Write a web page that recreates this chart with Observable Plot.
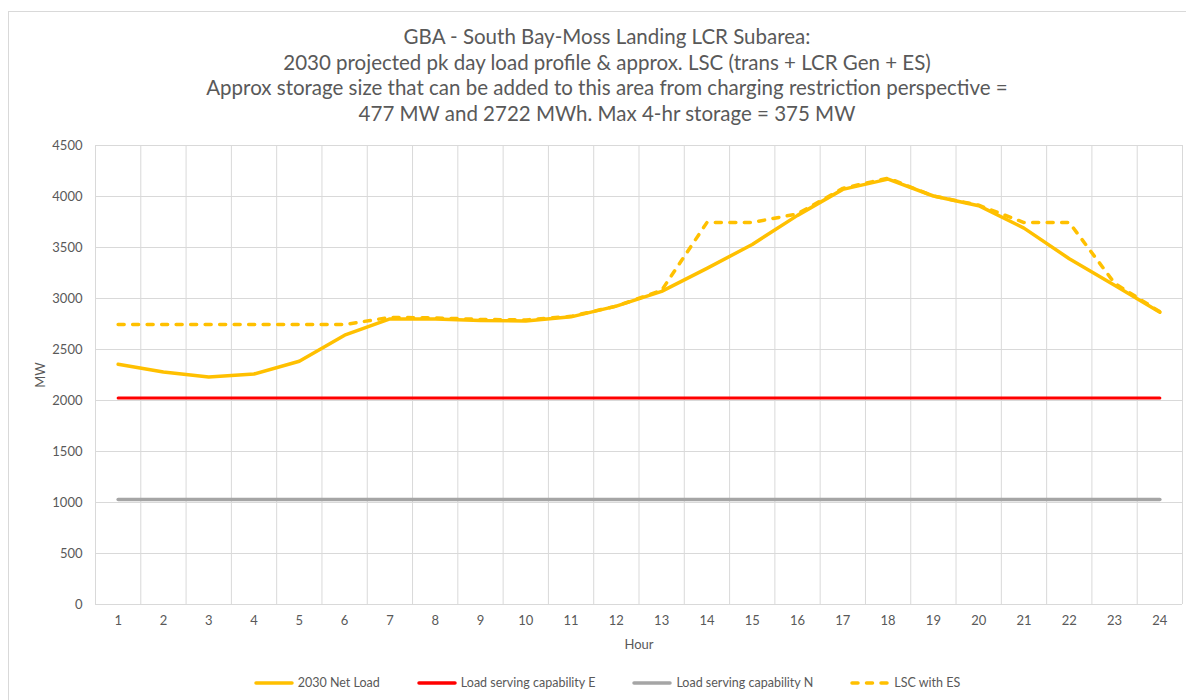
<!DOCTYPE html>
<html>
<head>
<meta charset="utf-8">
<script src="https://cdn.jsdelivr.net/npm/d3@7"></script>
<script src="https://cdn.jsdelivr.net/npm/@observablehq/plot@0.6"></script>
<style>
  body { margin: 0; background: #fff; }
  #wrap { position: relative; width: 1186px; height: 700px; overflow: hidden; font-family: Lato, "Open Sans", sans-serif; color: #595959; }
  #border { position: absolute; left: 8px; top: 11px; width: 1300px; height: 800px; border: 1px solid #d9d9d9; }
  #title { position: absolute; left: 8px; width: 1198px; top: 24px; text-align: center; font-size: 20.5px; line-height: 25.6px; color: #595959; }
  #chart { position: absolute; left: 0; top: 130px; }
  #legend { position: absolute; left: 8px; width: 1198px; top: 675px; display: flex; justify-content: center; gap: 37px; font-size: 12.5px; align-items: center; }
  .item { display: flex; align-items: center; gap: 4px; }
</style>
</head>
<body>
<div id="wrap">
  <div id="border"></div>
  <div id="title"></div>
  <div id="chart"></div>
  <div id="legend"></div>
</div>
<script>
const titleLines = [
  "GBA - South Bay-Moss Landing LCR Subarea:",
  "2030 projected pk day load profile & approx. LSC (trans + LCR Gen + ES)",
  "Approx storage size that can be added to this area from charging restriction perspective =",
  "477 MW and 2722 MWh. Max 4-hr storage = 375 MW"
];
const hours = [1,2,3,4,5,6,7,8,9,10,11,12,13,14,15,16,17,18,19,20,21,22,23,24];
const netLoad = [2355,2280,2230,2260,2385,2640,2800,2800,2785,2780,2820,2925,3070,3295,3530,3815,4070,4170,4005,3910,3690,3390,3130,2865];
const capE = [2025,2025,2025,2025,2025,2025,2025,2025,2025,2025,2025,2025,2025,2025,2025,2025,2025,2025,2025,2025,2025,2025,2025,2025];
const capN = [1030,1030,1030,1030,1030,1030,1030,1030,1030,1030,1030,1030,1030,1030,1030,1030,1030,1030,1030,1030,1030,1030,1030,1030];
const lscES = [2745,2745,2745,2745,2745,2745,2815,2810,2795,2790,2825,2925,3080,3745,3745,3830,4080,4180,4005,3915,3745,3745,3150,2870];
const yTicks = [0,500,1000,1500,2000,2500,3000,3500,4000,4500];
const seriesNames = ["2030 Net Load", "Load serving capability E", "Load serving capability N", "LSC with ES"];
const seriesColors = ["#FFC000", "#FF0000", "#A5A5A5", "#FFC000"];

document.getElementById("title").innerHTML = titleLines.map(t => `<div>${t.replace(/&/g,"&amp;")}</div>`).join("");

const boundaries = hours.map(h => h - 0.5).concat([hours[hours.length - 1] + 0.5]);
const grid = "#d9d9d9";

const chart = Plot.plot({
  width: 1186,
  height: 530,
  marginLeft: 95,
  marginRight: 4,
  marginTop: 15,
  marginBottom: 56,
  style: { fontFamily: "Lato, 'Open Sans', sans-serif", fontSize: "13px", color: "#595959", background: "transparent" },
  x: { type: "linear", domain: [boundaries[0], boundaries[boundaries.length - 1]] },
  y: { domain: [0, 4500] },
  marks: [
    Plot.ruleX(boundaries, { stroke: grid, strokeWidth: 1 }),
    Plot.ruleY(yTicks, { stroke: grid, strokeWidth: 1 }),
    Plot.axisX(hours, { tickSize: 0, tickPadding: 11, tickFormat: d => String(d), label: "Hour", labelAnchor: "center", labelArrow: "none", labelOffset: 44 }),
    Plot.axisY(yTicks, { tickSize: 0, tickPadding: 13, tickFormat: d => String(d), label: "MW", labelAnchor: "center", labelArrow: "none", labelOffset: 60 }),
    Plot.line(hours, { x: d => d, y: (d, i) => netLoad[i], stroke: seriesColors[0], strokeWidth: 3.5 }),
    Plot.line(hours, { x: d => d, y: (d, i) => capE[i], stroke: seriesColors[1], strokeWidth: 3 }),
    Plot.line(hours, { x: d => d, y: (d, i) => capN[i], stroke: seriesColors[2], strokeWidth: 3.5 }),
    Plot.line(hours, { x: d => d, y: (d, i) => lscES[i], stroke: seriesColors[3], strokeWidth: 3.5, strokeDasharray: "6,8.5" })
  ]
});
document.getElementById("chart").appendChild(chart);

const legend = document.getElementById("legend");
seriesNames.forEach((name, i) => {
  const dash = i === 3 ? 'stroke-dasharray="6,8.5"' : '';
  const item = document.createElement("div");
  item.className = "item";
  item.innerHTML = `<svg width="40" height="8"><line x1="2" y1="4" x2="38" y2="4" stroke="${seriesColors[i]}" stroke-width="3.5" stroke-linecap="round" ${dash}/></svg><span>${name}</span>`;
  legend.appendChild(item);
});
</script>
</body>
</html>
